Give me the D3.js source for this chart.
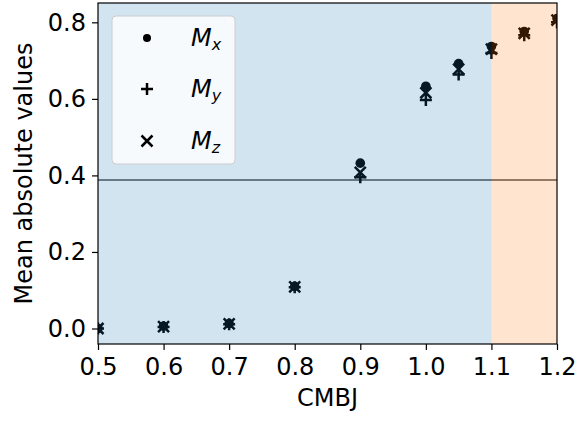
<!DOCTYPE html>
<html>
<head>
<meta charset="utf-8">
<script src="https://cdn.jsdelivr.net/npm/d3@7"></script>
<style>
  html, body { margin: 0; padding: 0; background: #fff; }
  svg text { font-family: "DejaVu Sans", sans-serif; fill: #000; }
</style>
</head>
<body>
<svg id="chart" width="579" height="424"></svg>
<script>
// CMBJ values sampled
const cmbj = [0.5, 0.6, 0.7, 0.8, 0.9, 1.0, 1.05, 1.1, 1.15, 1.2];
// Mean absolute magnetisation components
const mx = [0.000, 0.006, 0.013, 0.110, 0.432, 0.633, 0.692, 0.737, 0.776, 0.810];
const my = [0.000, 0.004, 0.011, 0.108, 0.395, 0.597, 0.664, 0.720, 0.766, 0.800];
const mz = [0.000, 0.005, 0.012, 0.109, 0.408, 0.616, 0.678, 0.730, 0.771, 0.806];
// Reference level (horizontal line)
const refLevel = 0.388;
// Shaded regions along CMBJ
const regions = [
  { from: 0.5, to: 1.1, color: "#1f77b4" },
  { from: 1.1, to: 1.2, color: "#ff7f0e" }
];
const xTicks = [0.5, 0.6, 0.7, 0.8, 0.9, 1.0, 1.1, 1.2];
const yTicks = [0.0, 0.2, 0.4, 0.6, 0.8];
const seriesNames = ["x", "y", "z"];

const svg = d3.select("#chart");
const L = 98, R = 557, T = 3, B = 344;
const x = d3.scaleLinear().domain([0.5, 1.2]).range([L, R]);
const y = d3.scaleLinear().domain([-0.0405, 0.8505]).range([B, T]);

svg.append("defs").append("clipPath").attr("id", "plotclip")
  .append("rect").attr("x", L).attr("y", T).attr("width", R - L).attr("height", B - T);

const plot = svg.append("g").attr("clip-path", "url(#plotclip)");

// reference line
plot.append("line")
  .attr("x1", L).attr("x2", R)
  .attr("y1", y(refLevel)).attr("y2", y(refLevel))
  .attr("stroke", "#7a7a7a").attr("stroke-width", 2.2);

// marker shapes
const ink = "#000";
function dot(g, cx, cy, r) {
  g.append("circle").attr("cx", cx).attr("cy", cy).attr("r", r).attr("fill", ink);
}
function plus(g, cx, cy, s) {
  g.append("path")
    .attr("d", `M${cx - s},${cy}H${cx + s}M${cx},${cy - s}V${cy + s}`)
    .attr("stroke", ink).attr("stroke-width", 2.5).attr("fill", "none");
}
function cross(g, cx, cy, s) {
  g.append("path")
    .attr("d", `M${cx - s},${cy - s}L${cx + s},${cy + s}M${cx - s},${cy + s}L${cx + s},${cy - s}`)
    .attr("stroke", ink).attr("stroke-width", 2.5).attr("fill", "none");
}

const marks = plot.append("g");
cmbj.forEach((c, i) => dot(marks, x(c), y(mx[i]), 4.8));
cmbj.forEach((c, i) => plus(marks, x(c), y(my[i]), 6));
cmbj.forEach((c, i) => cross(marks, x(c), y(mz[i]), 5.5));

// translucent shaded regions on top of the markers
plot.selectAll("rect.region").data(regions).join("rect")
  .attr("class", "region")
  .attr("x", d => x(d.from)).attr("width", d => x(d.to) - x(d.from))
  .attr("y", T).attr("height", B - T)
  .attr("fill", d => d.color).attr("fill-opacity", 0.2);

// axes
const fs = 24;
const xAxis = svg.append("g").attr("transform", `translate(0,${B})`)
  .call(d3.axisBottom(x).tickValues(xTicks).tickFormat(d3.format(".1f")).tickSize(6).tickPadding(8));
const yAxis = svg.append("g").attr("transform", `translate(${L},0)`)
  .call(d3.axisLeft(y).tickValues(yTicks).tickFormat(d3.format(".1f")).tickSize(6).tickPadding(6));
[xAxis, yAxis].forEach(a => {
  a.select(".domain").remove();
  a.selectAll("line").attr("stroke", "#000").attr("stroke-width", 1.2);
  a.selectAll("text").style("font-size", fs + "px").style("font-family", "DejaVu Sans");
});

// frame
svg.append("rect").attr("x", L).attr("y", T).attr("width", R - L).attr("height", B - T)
  .attr("fill", "none").attr("stroke", "#000").attr("stroke-width", 1.2);

// axis titles
svg.append("text").attr("x", (L + R) / 2).attr("y", 406)
  .attr("text-anchor", "middle").style("font-size", fs + "px").text("CMBJ");
svg.append("text")
  .attr("transform", `translate(32,${(T + B) / 2}) rotate(-90)`)
  .attr("text-anchor", "middle").style("font-size", fs + "px").text("Mean absolute values");

// legend
const lg = svg.append("g");
lg.append("rect").attr("x", 112).attr("y", 16).attr("width", 123).attr("height", 148)
  .attr("rx", 4).attr("fill", "#fff").attr("fill-opacity", 0.8)
  .attr("stroke", "#cccccc").attr("stroke-width", 1);
const rowY = [38, 89, 141];
dot(lg, 147, rowY[0], 4);
plus(lg, 147, rowY[1], 6);
cross(lg, 147, rowY[2], 5.5);
seriesNames.forEach((s, i) => {
  const t = lg.append("text").attr("x", 191).attr("y", rowY[i] + 8).style("font-size", fs + "px");
  t.append("tspan").style("font-style", "italic").text("M");
  t.append("tspan").style("font-style", "italic").style("font-size", "16px").attr("dy", 4).text(s);
});
</script>
</body>
</html>
